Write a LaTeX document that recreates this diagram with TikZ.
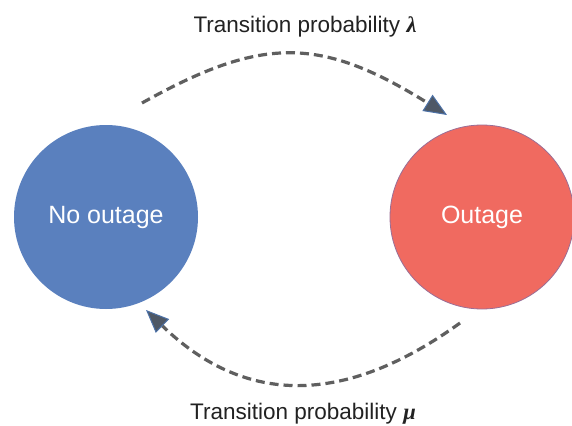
\documentclass[tikz,border=0pt]{standalone}
\usepackage{fontspec}
\setmainfont{Liberation Sans}
\newfontfamily\greekfont{Liberation Serif}
\usetikzlibrary{arrows.meta}
\definecolor{nblue}{HTML}{5A80BE}
\definecolor{nred}{HTML}{F06A60}
\definecolor{redline}{HTML}{9A6E96}
\definecolor{dashgray}{HTML}{5F5F5F}
\definecolor{tipfill}{HTML}{4E5866}
\definecolor{tipedge}{HTML}{4D72A8}
\definecolor{labelgray}{HTML}{222222}
\tikzset{
  state/.style={circle, minimum size=184pt, inner sep=0pt, text=white, font=\fontsize{25}{29}\selectfont},
  trans/.style={draw=dashgray, line width=3.2pt, dash pattern=on 9pt off 5pt,
    -{Triangle[length=23pt,width=19pt,fill=tipfill,color=tipedge,line width=1pt]}},
  translabel/.style={anchor=base, text=labelgray, font=\fontsize{22.5}{26}\selectfont, inner sep=0pt}
}
\begin{document}
\begin{tikzpicture}[x=1pt,y=-1pt]
\useasboundingbox[fill=white] (0,0) rectangle (572,425);
\node[state, fill=nblue] (no) at (106,217) {No outage};
\node[state, fill=nred, draw=redline, line width=0.8pt] (out) at (482,217) {Outage};
\node[translabel] (lt) at (305,33) {Transition probability {\greekfont\bfseries\itshape λ}};
\node[translabel] (lb) at (303,419) {Transition probability {\greekfont\bfseries\itshape μ}};
\coordinate (a1) at (142,103);
\coordinate (a2) at (447,115);
\coordinate (b1) at (460,323);
\coordinate (b2) at (146,310);
\draw[trans] (a1) .. controls (262,36) and (320,36) .. (a2);
\draw[trans] (b1) .. controls (345,406) and (245,406) .. (b2);
\end{tikzpicture}
\end{document}
